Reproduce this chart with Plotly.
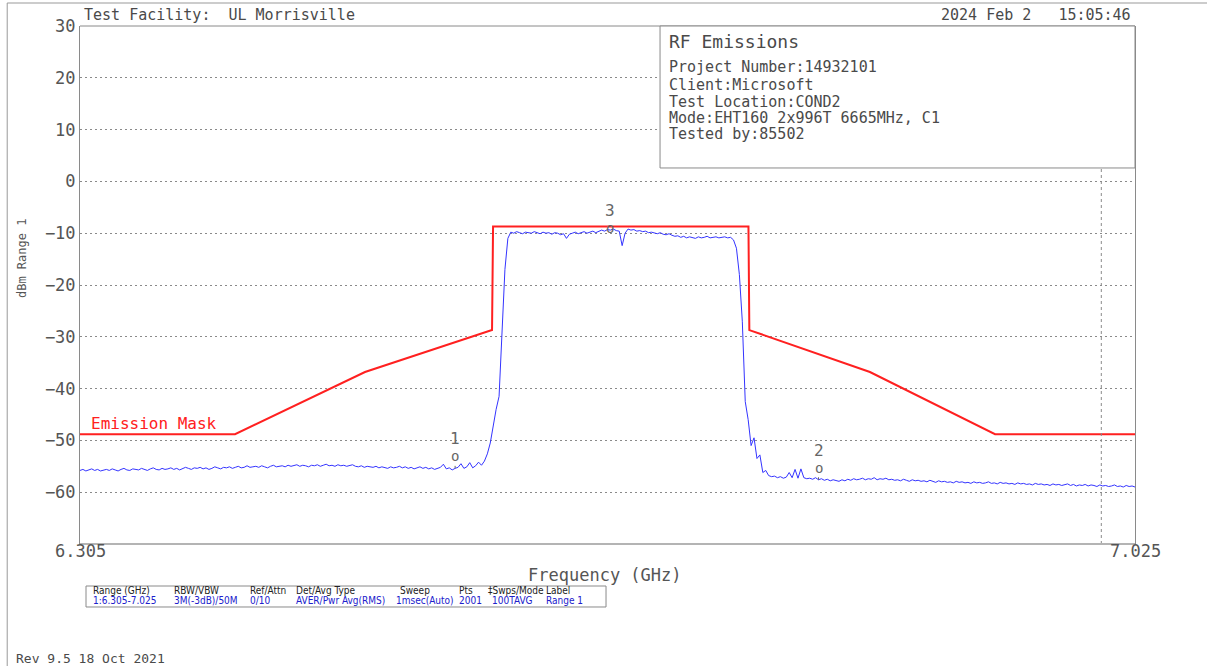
import plotly.graph_objects as go

# sweep settings (2001 pt sweep, read here at 2 MHz spacing)
sweep_start_ghz = 6.305
sweep_stop_ghz = 7.025
sweep_step_ghz = 0.002

level_dbm = [
    # lower noise floor 6.305 .. 6.577
    -55.8, -55.6, -55.9, -55.7, -55.5, -55.8, -55.6, -55.9, -55.7, -55.6,
    -55.8, -55.5, -55.7, -55.9, -55.6, -55.4, -55.7, -55.8, -55.5, -55.6,
    -55.7, -55.4, -55.6, -55.8, -55.5, -55.3, -55.6, -55.7, -55.4, -55.6,
    -55.5, -55.3, -55.6, -55.4, -55.7, -55.5, -55.2, -55.4, -55.6, -55.3,
    -55.4, -55.2, -55.5, -55.3, -55.6, -55.4, -55.1, -55.3, -55.5, -55.2,
    -55.3, -55.1, -55.4, -55.2, -55.0, -55.3, -55.2, -54.9, -55.2, -55.1,
    -55.0, -55.2, -54.9, -55.1, -55.3, -55.0, -54.8, -55.1, -55.0, -54.9,
    -55.1, -54.8, -55.0, -54.9, -54.7, -55.0, -54.8, -54.9, -55.1, -54.8,
    -54.9, -54.7, -55.0, -54.8, -54.6, -54.9, -54.8, -55.0, -54.7, -54.9,
    -54.8, -55.0, -54.9, -54.7, -55.0, -55.1, -54.9, -55.2, -55.0, -55.1,
    -55.2, -55.0, -55.3, -55.1, -55.2, -55.4, -55.1, -55.3, -55.2, -55.0,
    -55.3, -55.1, -55.4, -55.2, -55.5, -55.3, -55.1, -55.4, -55.2, -55.5,
    -55.3, -55.6, -55.4, -55.2, -54.6, -55.5, -55.3, -55.7, -55.4, -55.2,
    -54.5, -55.4, -55.1, -54.3, -55.3, -54.9, -54.2,
    # rising edge
    -54.8, -54.0, -52.6, -50.5, -46.8, -44.0, -41.5, -28.0, -17.0, -11.0,
    # in-band
    -9.8, -10.0, -9.7, -9.9, -10.1, -9.8, -9.9, -10.0, -9.7, -9.9,
    -10.1, -9.8, -10.0, -9.9, -10.2, -9.9, -10.0, -10.3, -10.1, -11.0,
    -10.2, -10.0, -9.8, -10.1, -9.9, -9.7, -10.0, -9.8, -9.6, -9.9,
    -9.6, -9.4, -9.6, -9.3, -9.4, -9.2, -9.5, -9.6, -12.4, -10.0,
    -9.2, -9.4, -9.3, -9.6, -9.5, -9.7, -9.6, -9.9, -9.8, -10.0,
    -10.1, -9.9, -10.2, -10.3, -10.1, -10.4, -10.6, -10.5, -10.8, -10.6,
    -10.9, -10.7, -10.8, -11.0, -10.7, -10.9, -10.8, -10.6, -10.9, -10.8,
    -10.7, -10.9, -10.8, -10.7, -10.9, -10.8, -11.3,
    # falling edge
    -12.9, -18.0, -27.0, -42.5, -46.0, -51.0, -49.5, -53.5, -52.8, -56.2, -55.8,
    # upper noise floor 6.775 .. 7.025
    -56.8, -57.0, -56.9, -57.2, -57.0, -57.3, -57.1, -56.2, -57.2, -55.6,
    -57.3, -55.5, -57.2, -57.4, -57.3, -57.5, -57.2, -57.6, -57.4, -57.7,
    -57.5, -57.8, -57.6, -57.7, -57.9, -57.6, -57.8, -57.5, -57.7, -57.4,
    -57.6, -57.5, -57.3, -57.6, -57.4, -57.5, -57.2, -57.6, -57.4, -57.5,
    -57.3, -57.6, -57.5, -57.7, -57.6, -57.8, -57.5, -57.7, -57.9, -57.6,
    -57.8, -57.7, -57.9, -57.8, -58.0, -57.7, -57.9, -58.1, -57.8, -58.0,
    -57.9, -58.1, -58.0, -58.2, -57.9, -58.1, -58.0, -58.2, -58.1, -58.3,
    -58.0, -58.2, -58.1, -58.3, -58.2, -58.0, -58.3, -58.2, -58.4, -58.1,
    -58.3, -58.2, -58.4, -58.3, -58.5, -58.2, -58.4, -58.3, -58.5, -58.4,
    -58.6, -58.3, -58.5, -58.4, -58.6, -58.5, -58.7, -58.4, -58.6, -58.5,
    -58.7, -58.6, -58.4, -58.7, -58.5, -58.8, -58.6, -58.7, -58.5, -58.8,
    -58.6, -58.7, -58.9, -58.6, -58.8, -58.7, -58.9, -58.8, -58.6, -58.9,
    -58.8, -59.0, -58.7, -58.9, -58.8, -59.0,
]

# emission mask corners
mask_freq_ghz = [6.305, 6.4108, 6.4995, 6.5862, 6.5869, 6.7612, 6.7618, 6.8441, 6.9295, 7.025]
mask_level_dbm = [-48.8, -48.8, -36.8, -28.7, -8.7, -8.7, -28.7, -36.8, -48.8, -48.8]

marker_labels = ["1", "2", "3"]
marker_freq_ghz = [6.561, 6.809, 6.667]
marker_level_dbm = [-55.4, -57.6, -9.3]

ref_line_ghz = 7.002

y_ticks = [30, 20, 10, 0, -10, -20, -30, -40, -50, -60]
x_tick_labels = ["6.305", "7.025"]

info_title = "RF Emissions"
info_lines = [
    "Project Number:14932101",
    "Client:Microsoft",
    "Test Location:COND2",
    "Mode:EHT160 2x996T 6665MHz, C1",
    "Tested by:85502",
]

table_head = ["Range (GHz)", "RBW/VBW", "Ref/Attn", "Det/Avg Type", "Sweep", "Pts", "\u2021Swps/Mode", "Label"]
table_vals = ["1:6.305-7.025", "3M(-3dB)/50M", "0/10", "AVER/Pwr Avg(RMS)", "1msec(Auto)", "2001", "100TAVG", "Range 1"]

MONO = "DejaVu Sans Mono"
NARROW = "DejaVu Sans Condensed, Liberation Sans Narrow, DejaVu Sans"
GREY = "#555555"
TXT = "#4a4a4a"

fig = go.Figure()

fig.add_trace(go.Scatter(
    x0=sweep_start_ghz, dx=sweep_step_ghz, y=level_dbm,
    mode="lines", line=dict(color="#3434ff", width=1), hoverinfo="skip",
))
fig.add_trace(go.Scatter(
    x=mask_freq_ghz, y=mask_level_dbm,
    mode="lines", line=dict(color="#ff2020", width=2), hoverinfo="skip",
))

fig.update_layout(
    width=1207, height=666,
    margin=dict(l=80, r=72, t=26, b=122),
    paper_bgcolor="white", plot_bgcolor="white",
    showlegend=False,
    font=dict(family=MONO, color=GREY),
)
fig.update_xaxes(
    range=[sweep_start_ghz, sweep_stop_ghz],
    showgrid=False, zeroline=False, showticklabels=False, ticks="",
    showline=False,
)
fig.update_yaxes(
    range=[-70, 30],
    tickvals=y_ticks,
    tickfont=dict(size=17, color=GREY, family=MONO),
    showgrid=True, gridcolor="#8a8a8a", gridwidth=1, griddash="2px,3px",
    zeroline=False, ticks="",
    showline=True, mirror=True, linecolor="#8a8a8a", linewidth=1,
)

shapes = []
# vertical dashed reference line
shapes.append(dict(type="line", xref="x", yref="y", x0=ref_line_ghz, x1=ref_line_ghz, y0=-70, y1=30,
                   line=dict(color="#8a8a8a", width=1, dash="3px,3px"), layer="above"))
# frame top and bottom
shapes.append(dict(type="line", xref="paper", yref="paper", x0=0, x1=1, y0=1, y1=1,
                   line=dict(color="#8a8a8a", width=1)))
shapes.append(dict(type="line", xref="paper", yref="paper", x0=0, x1=1, y0=0, y1=0,
                   line=dict(color="#b4b4b4", width=2)))
# page border
shapes.append(dict(type="line", xref="paper", yref="paper", x0=-0.069, x1=1.07, y0=1.0444, y1=1.0444,
                   line=dict(color="#999999", width=1)))
shapes.append(dict(type="line", xref="paper", yref="paper", x0=-0.069, x1=-0.069, y0=-0.24, y1=1.0444,
                   line=dict(color="#999999", width=1)))
# info box
shapes.append(dict(type="rect", xref="paper", yref="paper", x0=0.5498, x1=1.0, y0=0.7259, y1=1.0,
                   line=dict(color="#8a8a8a", width=1), fillcolor="white", layer="above"))
# parameter table box
shapes.append(dict(type="rect", xref="paper", yref="paper", x0=0.0057, x1=0.4986, y0=-0.1216, y1=-0.0811,
                   line=dict(color="#8a8a8a", width=1), fillcolor="white"))
fig.update_layout(shapes=shapes)

ann = []
ann.append(dict(text="Test Facility:  UL Morrisville", x=0.002, y=1.0212, xanchor="left", yanchor="middle",
                font=dict(size=15, color=TXT)))
ann.append(dict(text="2024 Feb 2   15:05:46", x=0.998, y=1.0212, xanchor="right", yanchor="middle",
                font=dict(size=15, color=TXT)))
ann.append(dict(text=info_title, x=0.5561, y=0.9697, xanchor="left", yanchor="middle",
                font=dict(size=18, color=TXT)))
info_y = [0.9203, 0.8861, 0.8539, 0.8230, 0.7915]
for line, yy in zip(info_lines, info_y):
    ann.append(dict(text=line, x=0.5561, y=yy, xanchor="left", yanchor="middle",
                    font=dict(size=15, color=TXT)))
for lbl, xx in zip(x_tick_labels, [0.0, 1.0]):
    ann.append(dict(text=lbl, x=xx, y=-0.0135, xanchor="center", yanchor="middle",
                    font=dict(size=17, color=GREY)))
ann.append(dict(text="Frequency (GHz)", x=0.4976, y=-0.0598, xanchor="center", yanchor="middle",
                font=dict(size=17, color=GREY)))
ann.append(dict(text="dBm Range 1", x=-0.055, y=0.552, textangle=-90, xanchor="center", yanchor="middle",
                font=dict(size=12, color=GREY)))
ann.append(dict(text="Rev 9.5 18 Oct 2021", x=-0.0626, y=-0.222, xanchor="left", yanchor="middle",
                font=dict(size=13, color=TXT)))
ann.append(dict(text="Emission Mask", xref="x", yref="y", x=sweep_start_ghz, y=mask_level_dbm[0],
                xanchor="left", yanchor="bottom", xshift=9, yshift=-1,
                font=dict(size=16, color="#ff2020")))

col_x = [0.0104, 0.0872, 0.1588, 0.2028, 0.3010, 0.3573, 0.3848, 0.4398]
val_x = [0.0104, 0.0872, 0.1588, 0.2028, 0.2975, 0.3573, 0.3886, 0.4398]
for head, xx in zip(table_head, col_x):
    ann.append(dict(text=head, x=xx, y=-0.0907, xanchor="left", yanchor="middle",
                    font=dict(size=10, color="#222", family=NARROW)))
for val, xx in zip(table_vals, val_x):
    ann.append(dict(text=val, x=xx, y=-0.110, xanchor="left", yanchor="middle",
                    font=dict(size=10, color="#2020cc", family=NARROW)))

# markers: circle with tail down to trace, number above
tails = [-12, -12, -2]
for lbl, f, lv, tail in zip(marker_labels, marker_freq_ghz, marker_level_dbm, tails):
    ann.append(dict(text="o", xref="x", yref="y", x=f, y=lv, showarrow=True, arrowhead=0,
                    arrowwidth=1, arrowcolor="#666", ax=0, ay=tail,
                    font=dict(size=14, color="#666")))
    ann.append(dict(text=lbl, xref="x", yref="y", x=f, y=lv, showarrow=False,
                    yanchor="bottom", yshift=-tail + 6,
                    font=dict(size=16, color="#666")))

for a in ann:
    a.setdefault("xref", "paper")
    a.setdefault("yref", "paper")
    a.setdefault("showarrow", False)
fig.update_layout(annotations=ann)

# drop the default 8px page margin so the figure sits at the window corner
fig.write_html("out.html", config={"displayModeBar": False},
               post_script="document.body.style.margin='0';")
